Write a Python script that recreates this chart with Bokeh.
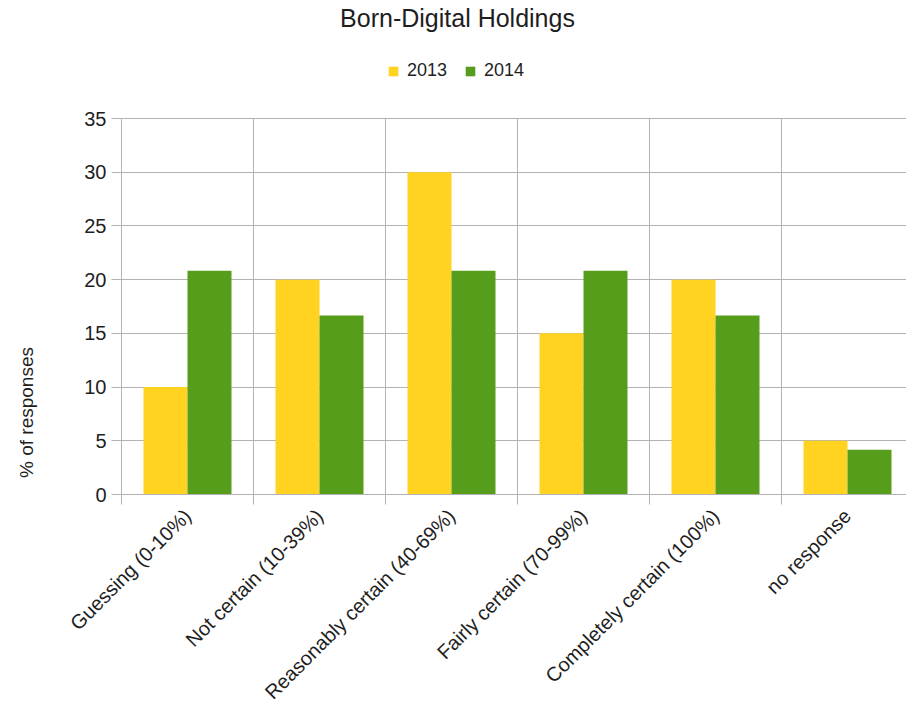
import numpy as np
from math import pi
from bokeh.plotting import figure
from bokeh.layouts import row
from bokeh.models import Range1d, FixedTicker, Legend, Label
from bokeh.embed import file_html
from bokeh.resources import INLINE

categories = ["Guessing (0-10%)", "Not certain (10-39%)", "Reasonably certain (40-69%)",
              "Fairly certain (70-99%)", "Completely certain (100%)", "no response"]
series_names = ["2013", "2014"]
values_2013 = [10, 20, 30, 15, 20, 5]
values_2014 = [20.83, 16.67, 20.83, 20.83, 16.67, 4.17]
y_ticks = [0, 5, 10, 15, 20, 25, 30, 35]
colors = ["#ffd320", "#579d1c"]
title_text = "Born-Digital Holdings"
y_label_text = "% of responses"

FONT = "Liberation Sans"
GRID = "#b3b3b3"
TXT = "#1e1e1e"

idx = np.arange(len(categories))
n = len(categories)
y_max = max(y_ticks)

TOTAL_W, TOTAL_H = 906, 716
LW = 50            # width of the narrow left figure holding the y label
FL, FB = 121, 494  # frame left / x-axis line (page pixels)
CAT_PX = 132       # pixels per category
PX_PER_UNIT = (FB - 118) / y_max

# ---- narrow figure with the rotated y-axis title (its frame is aligned with the main one)
lf = figure(width=LW, height=TOTAL_H, output_backend="svg", toolbar_location=None,
            x_axis_type=None, y_axis_type=None, x_range=Range1d(0, 1), y_range=Range1d(0, 1),
            min_border=0, title_location=None)
lf.outline_line_color = None
lf.grid.visible = False
lf.add_layout(Label(x=26, y=FB - 412, x_units="screen", y_units="screen",
                    text=y_label_text, angle=pi / 2, text_align="center",
                    text_baseline="middle", text_font=FONT, text_font_size="19px",
                    text_color=TXT))

# ---- main chart
MW = TOTAL_W - LW
p = figure(width=MW, height=TOTAL_H, output_backend="svg", toolbar_location=None,
           x_range=Range1d(0, (TOTAL_W - FL) / CAT_PX),
           y_range=Range1d(0, FB / PX_PER_UNIT),
           min_border_left=FL - LW, min_border_right=0, min_border_top=0,
           min_border_bottom=TOTAL_H - FB, title_location=None)

r1 = p.vbar(x=idx + 1/3, top=values_2013, width=1/3, fill_color=colors[0], line_color=None)
r2 = p.vbar(x=idx + 2/3, top=values_2014, width=1/3, fill_color=colors[1], line_color=None)

p.outline_line_color = None

# vertical category separators (grid)
bounds = np.arange(n + 1)
p.segment(x0=bounds, y0=0, x1=bounds, y1=y_max, line_color=GRID, line_width=1, level="underlay")
p.xgrid.visible = False
p.ygrid.ticker = FixedTicker(ticks=y_ticks)
p.ygrid.grid_line_color = GRID

# x axis
xa = p.xaxis[0]
xa.ticker = FixedTicker(ticks=list(idx + 0.5), minor_ticks=list(bounds))
xa.major_label_overrides = {float(i + 0.5): c for i, c in enumerate(categories)}
xa.major_label_orientation = pi / 4
xa.major_tick_line_color = None
xa.minor_tick_in = 0
xa.minor_tick_out = 10
xa.minor_tick_line_color = GRID
xa.axis_line_color = GRID
xa.major_label_text_font = FONT
xa.major_label_text_font_size = "20px"
xa.major_label_text_color = TXT
xa.major_label_standoff = 8

# y axis
ya = p.yaxis[0]
ya.ticker = FixedTicker(ticks=y_ticks)
ya.bounds = (0, y_max)
ya.major_tick_in = 0
ya.major_tick_out = 10
ya.major_tick_line_color = GRID
ya.minor_tick_line_color = None
ya.axis_line_color = GRID
ya.major_label_text_font = FONT
ya.major_label_text_font_size = "20px"
ya.major_label_text_color = TXT
ya.major_label_standoff = 5

legend = Legend(items=[(series_names[0], [r1]), (series_names[1], [r2])],
                orientation="horizontal", location=(266, FB - 71 - 10),
                glyph_width=12, glyph_height=12, label_standoff=8, spacing=17,
                label_text_font=FONT, label_text_font_size="18px", label_text_color=TXT,
                border_line_color=None, background_fill_alpha=0, margin=0, padding=0)
p.add_layout(legend)

p.add_layout(Label(x=336, y=FB - 17, x_units="screen", y_units="screen", text=title_text,
                   text_align="center", text_baseline="middle",
                   text_font=FONT, text_font_size="25px", text_color=TXT))

layout = row(lf, p, spacing=0)
open("out.html", "w").write(file_html(layout, INLINE))
